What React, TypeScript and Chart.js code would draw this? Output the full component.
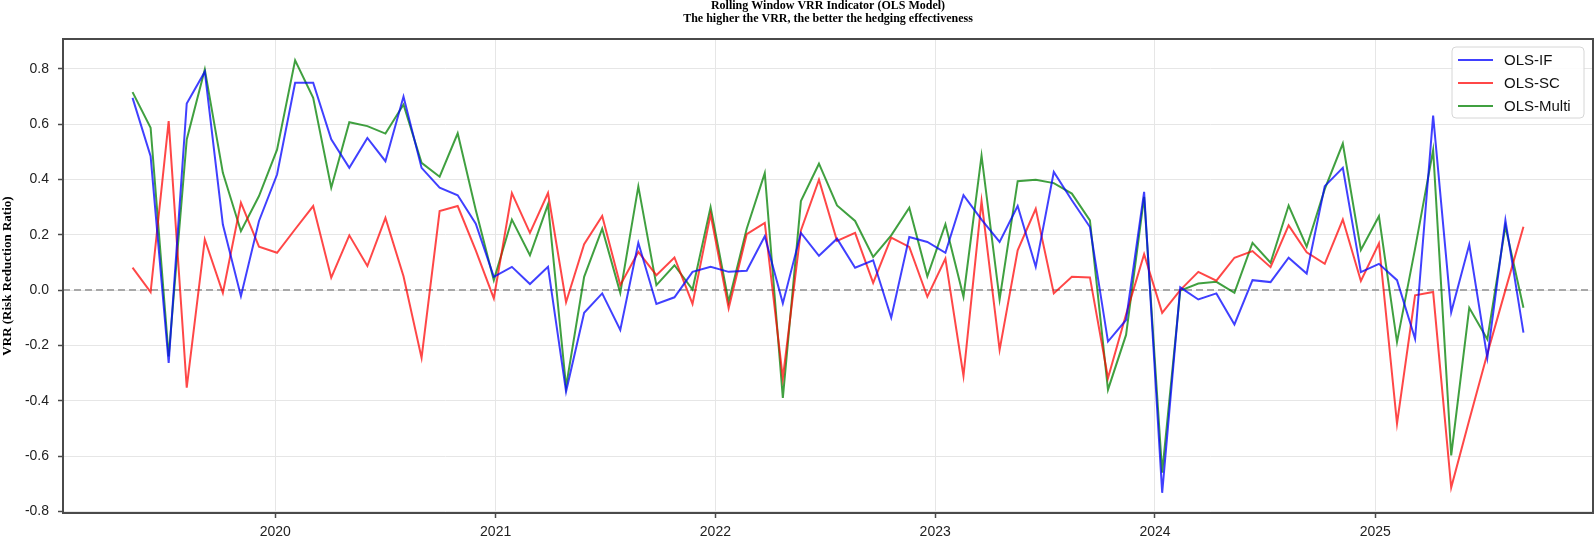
import { useEffect, useRef } from 'react'
import { Chart, registerables } from 'chart.js'

Chart.register(...registerables)

// rolling windows, one value every 30 days starting here
const periodStart = '2019-05-09'
const stepDays = 30

const ifValues = [
  0.695, 0.484, -0.263, 0.675, 0.79, 0.237, -0.022, 0.25, 0.418, 0.75,
  0.75, 0.545, 0.442, 0.55, 0.466, 0.7, 0.442, 0.37, 0.343, 0.24,
  0.048, 0.084, 0.022, 0.084, -0.367, -0.082, -0.012, -0.144, 0.171, -0.05,
  -0.026, 0.066, 0.084, 0.066, 0.07, 0.195, -0.048, 0.207, 0.124, 0.186,
  0.081, 0.108, -0.1, 0.192, 0.174, 0.135, 0.343, 0.255, 0.174, 0.304,
  0.084, 0.427, 0.325, 0.228, -0.186, -0.108, 0.355, -0.733, 0.01, -0.034,
  -0.012, -0.124, 0.036, 0.029, 0.117, 0.06, 0.376, 0.442, 0.065, 0.095,
  0.036, -0.176, 0.631, -0.08, 0.165, -0.245, 0.253, -0.154,
]

const scValues = [
  0.081, -0.007, 0.611, -0.353, 0.183, -0.01, 0.316, 0.157, 0.135, 0.22,
  0.304, 0.045, 0.198, 0.087, 0.261, 0.05, -0.245, 0.286, 0.304, 0.144,
  -0.03, 0.351, 0.207, 0.351, -0.044, 0.166, 0.268, 0.018, 0.138, 0.054,
  0.118, -0.05, 0.274, -0.066, 0.202, 0.243, -0.318, 0.216, 0.399, 0.178,
  0.207, 0.026, 0.19, 0.156, -0.024, 0.114, -0.31, 0.322, -0.216, 0.144,
  0.294, -0.012, 0.048, 0.046, -0.318, -0.088, 0.13, -0.082, 0.0, 0.066,
  0.034, 0.117, 0.141, 0.083, 0.234, 0.137, 0.095, 0.255, 0.033, 0.169,
  -0.483, -0.019, -0.007, -0.714, -0.47, -0.23, 0.0, 0.229,
]

const multiValues = [
  0.716, 0.587, -0.24, 0.545, 0.798, 0.424, 0.213, 0.34, 0.508, 0.831,
  0.695, 0.37, 0.607, 0.593, 0.566, 0.671, 0.46, 0.41, 0.567, 0.29,
  0.036, 0.255, 0.126, 0.31, -0.349, 0.048, 0.222, -0.01, 0.375, 0.018,
  0.09, 0.002, 0.3, -0.042, 0.222, 0.423, -0.39, 0.322, 0.457, 0.306,
  0.25, 0.12, 0.198, 0.298, 0.05, 0.238, -0.024, 0.486, -0.034, 0.394,
  0.399, 0.387, 0.349, 0.252, -0.36, -0.162, 0.337, -0.66, -0.002, 0.024,
  0.03, -0.01, 0.171, 0.099, 0.306, 0.157, 0.365, 0.53, 0.145, 0.267,
  -0.188, 0.15, 0.506, -0.598, -0.064, -0.178, 0.231, -0.064,
]

const seriesLabels = ['OLS-IF', 'OLS-SC', 'OLS-Multi']
const seriesColors = ['rgba(0, 0, 255, 0.75)', 'rgba(255, 0, 0, 0.72)', 'rgba(0, 128, 0, 0.75)']
const yearTicks = [2020, 2021, 2022, 2023, 2024, 2025]
const yTicks = [-0.8, -0.6, -0.4, -0.2, 0, 0.2, 0.4, 0.6, 0.8]
const titleLines = [
  'Rolling Window VRR Indicator (OLS Model)',
  'The higher the VRR, the better the hedging effectiveness',
]
const yTitle = 'VRR (Risk Reduction Ratio)'

const DAY = 86400000
const t0 = Date.parse(periodStart)
const toDays = (ms: number) => (ms - t0) / DAY
const SANS = '"Liberation Sans", Arial, sans-serif'
const SERIF = '"Liberation Serif", "Times New Roman", serif'

const overlay = {
  id: 'overlay',
  beforeDatasetsDraw(chart: any) {
    const { ctx, chartArea: a, scales } = chart
    const y0 = scales.y.getPixelForValue(0)
    ctx.save()
    ctx.setLineDash([7, 4])
    ctx.strokeStyle = '#a8a8a8'
    ctx.lineWidth = 2
    ctx.beginPath()
    ctx.moveTo(a.left, y0)
    ctx.lineTo(a.right, y0)
    ctx.stroke()
    ctx.restore()
  },
  afterDraw(chart: any) {
    const { ctx, chartArea: a } = chart
    ctx.save()
    // axes frame
    ctx.strokeStyle = '#4a4a4a'
    ctx.lineWidth = 2
    ctx.strokeRect(a.left, a.top, a.right - a.left, a.bottom - a.top)

    // title
    ctx.fillStyle = '#000'
    ctx.font = `bold 12px ${SERIF}`
    ctx.textAlign = 'center'
    ctx.textBaseline = 'middle'
    const cx = (a.left + a.right) / 2
    titleLines.forEach((t, i) => ctx.fillText(t, cx, 6 + i * 12.5))

    // legend
    const bx = a.right - 141
    const by = a.top + 8
    ctx.beginPath()
    ctx.roundRect(bx, by, 132, 71, 4)
    ctx.fillStyle = 'rgba(255,255,255,0.85)'
    ctx.fill()
    ctx.strokeStyle = '#d6d6d6'
    ctx.lineWidth = 1
    ctx.stroke()
    ctx.font = `15px ${SANS}`
    ctx.textAlign = 'left'
    chart.data.datasets.forEach((ds: any, i: number) => {
      const ry = by + 13 + i * 23
      ctx.strokeStyle = ds.borderColor
      ctx.lineWidth = 2
      ctx.beginPath()
      ctx.moveTo(bx + 6, ry)
      ctx.lineTo(bx + 41, ry)
      ctx.stroke()
      ctx.fillStyle = '#111'
      ctx.fillText(ds.label, bx + 52, ry + 1)
    })
    ctx.restore()
  },
}

export default function App() {
  const canvasRef = useRef<HTMLCanvasElement>(null)

  useEffect(() => {
    document.body.style.margin = '0'
    if (!canvasRef.current) return

    const series = [ifValues, scValues, multiValues]
    const n = ifValues.length
    const span = (n - 1) * stepDays
    const yearDays = yearTicks.map((y) => toDays(Date.UTC(y, 0, 1)))

    const chart = new Chart(canvasRef.current, {
      type: 'line',
      data: {
        datasets: series.map((vals, k) => ({
          label: seriesLabels[k],
          data: vals.map((v, i) => ({ x: i * stepDays, y: v })),
          borderColor: seriesColors[k],
          borderWidth: 2,
          pointRadius: 0,
          tension: 0,
          fill: false,
        })),
      },
      options: {
        animation: false,
        responsive: false,
        devicePixelRatio: 1,
        layout: { padding: { top: 39, right: 3, left: 0, bottom: 0 } },
        plugins: {
          legend: { display: false },
          tooltip: { enabled: false },
          title: { display: false },
        },
        scales: {
          x: {
            type: 'linear',
            min: -span * 0.05,
            max: span * 1.05,
            afterBuildTicks: (s: any) => {
              s.ticks = yearDays.map((v) => ({ value: v }))
            },
            afterFit: (s: any) => {
              s.height = 26
            },
            border: { display: false },
            grid: {
              color: '#e6e6e6',
              lineWidth: 1,
              tickColor: '#4a4a4a',
              tickLength: 5,
              tickWidth: 1.5,
            },
            ticks: {
              autoSkip: false,
              maxRotation: 0,
              padding: 6,
              color: '#222',
              font: { family: SANS, size: 14 },
              callback: (_v: any, i: number) => String(yearTicks[i]),
            },
          },
          y: {
            type: 'linear',
            min: -0.806,
            max: 0.908,
            afterBuildTicks: (s: any) => {
              s.ticks = yTicks.map((v) => ({ value: v }))
            },
            afterFit: (s: any) => {
              s.width = 63
            },
            border: { display: false },
            grid: {
              color: '#e6e6e6',
              lineWidth: 1,
              tickColor: '#4a4a4a',
              tickLength: 5,
              tickWidth: 1.5,
            },
            ticks: {
              padding: 9,
              color: '#222',
              font: { family: SANS, size: 14 },
              callback: (v: any) => Number(v).toFixed(1),
            },
            title: {
              display: true,
              text: yTitle,
              color: '#000',
              font: { family: SERIF, size: 13, weight: 'bold' },
              padding: { top: 0, bottom: 0 },
            },
          },
        },
      },
      plugins: [overlay],
    })

    return () => chart.destroy()
  }, [])

  return <canvas ref={canvasRef} width={1596} height={539} style={{ display: 'block' }} />
}
